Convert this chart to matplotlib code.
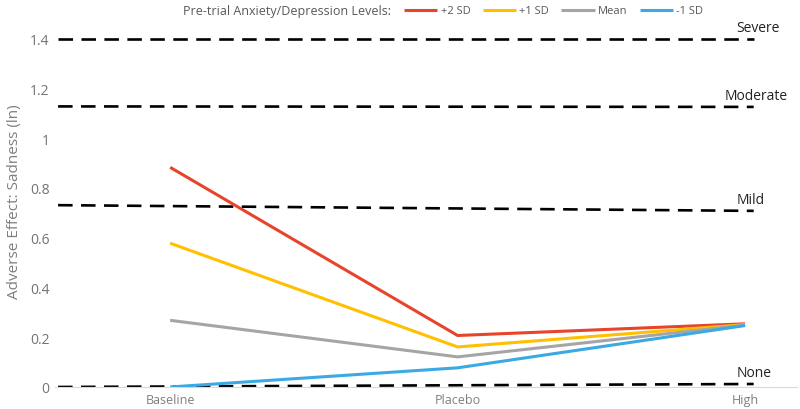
import matplotlib
matplotlib.use("Agg")
import matplotlib.pyplot as plt

plt.rcParams['font.family'] = ['Open Sans', 'DejaVu Sans']

# categories and series
categories = ["Baseline", "Placebo", "High"]
series_names = ["+2 SD", "+1 SD", "Mean", "-1 SD"]
plus2 = [0.883, 0.207, 0.254]
plus1 = [0.578, 0.161, 0.251]
mean = [0.268, 0.121, 0.249]
minus1 = [0.000, 0.077, 0.247]
colors = ["#E8442B", "#FFC000", "#A5A5A5", "#3BA9E3"]

# severity thresholds (dashed lines are slightly tilted in the original)
levels = ["None", "Mild", "Moderate", "Severe"]
level_left = [0.0, 0.731, 1.128, 1.400]
level_right = [0.012, 0.708, 1.126, 1.400]

fig = plt.figure(figsize=(8, 4.1), dpi=100)
ax = fig.add_axes([0.069, 0.0537, 0.927, 0.91])

x = list(range(len(categories)))
for vals, name, c in zip([plus2, plus1, mean, minus1], series_names, colors):
    ax.plot(x, vals, color=c, lw=2.2, label=name, solid_capstyle='butt', zorder=3)

x0, x1 = -0.39, 2.03
for name, yl, yr in zip(levels, level_left, level_right):
    ax.plot([x0, x1], [yl, yr], color="black", lw=1.9, dashes=(5.5, 3.2), zorder=2)
    ax.text(x1 - 0.06 if name != "Moderate" else x1 - 0.1, yr + 0.045, name,
            fontsize=10, color="#222222", va="center", ha="left")

ax.set_xlim(-0.40, 2.18)
ax.set_ylim(0, 1.5)
ax.set_xticks(x)
ax.set_xticklabels(categories, fontsize=9, color="#7f7f7f")
ax.set_yticks([0, 0.2, 0.4, 0.6, 0.8, 1.0, 1.2, 1.4])
ax.set_yticklabels([f"{v:g}" for v in [0, 0.2, 0.4, 0.6, 0.8, 1.0, 1.2, 1.4]],
                   fontsize=10, color="#737373")
ax.tick_params(length=0, pad=4)
ax.set_ylabel("Adverse Effect: Sadness (ln)", fontsize=11, color="#7f7f7f", labelpad=6)

for s in ["top", "right", "left"]:
    ax.spines[s].set_visible(False)
ax.spines["bottom"].set_color("#d9d9d9")

fig.text(0.229, 0.971, "Pre-trial Anxiety/Depression Levels:", fontsize=9,
         color="#595959", va="center", ha="left")
ax.legend(loc="center left", bbox_to_anchor=(0.457, 1.008), ncol=4, frameon=False,
          fontsize=8, handlelength=3.0, handletextpad=0.3, columnspacing=1.1,
          labelcolor="#595959")

fig.savefig("out.png", dpi=100)
